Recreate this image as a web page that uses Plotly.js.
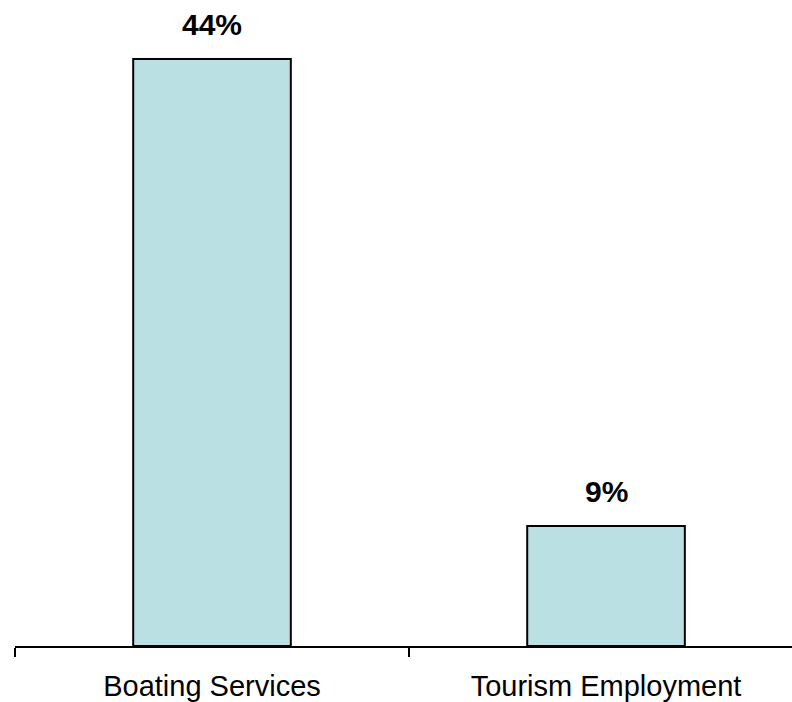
<!DOCTYPE html>
<html>
<head>
<meta charset="utf-8">
<script src="https://cdn.plot.ly/plotly-3.0.1.min.js"></script>
<style>
html,body{margin:0;padding:0;overflow:hidden;background:#fff;}
#chart{width:792px;height:702px;}
</style>
</head>
<body>
<div id="chart"></div>
<script>
const categories = ["Boating Services", "Tourism Employment"];
const values = [44, 9];
const valueLabels = ["44%", "9%"];

const trace = {
  type: "bar",
  x: categories,
  y: values,
  marker: {color: "#BBE0E3", line: {color: "#000000", width: 2}},
  hoverinfo: "skip"
};

const annotations = categories.map((c, i) => ({
  x: c, y: values[i], xref: "x", yref: "y",
  text: "<b>" + valueLabels[i] + "</b>",
  showarrow: false, yanchor: "bottom", yshift: 16,
  font: {family: "Liberation Sans, Arial, sans-serif", size: 30, color: "#000"}
}));

const layout = {
  width: 792, height: 702,
  margin: {l: 15, r: 0, t: 20, b: 56},
  paper_bgcolor: "#fff", plot_bgcolor: "#fff",
  showlegend: false,
  bargap: 0.6,
  xaxis: {
    type: "category",
    range: [-0.5, 1.472],
    showline: true, linecolor: "#000", linewidth: 2,
    ticks: "outside", tickson: "boundaries", ticklen: 9, tickwidth: 2, tickcolor: "#000",
    showgrid: false, zeroline: false,
    tickfont: {family: "Liberation Sans, Arial, sans-serif", size: 29, color: "#000"},
    ticklabelstandoff: 13
  },
  yaxis: {visible: false, range: [0, 46.93], showgrid: false, zeroline: false, fixedrange: true},
  annotations: annotations
};

Plotly.newPlot("chart", [trace], layout, {displayModeBar: false, staticPlot: true});
</script>
</body>
</html>
